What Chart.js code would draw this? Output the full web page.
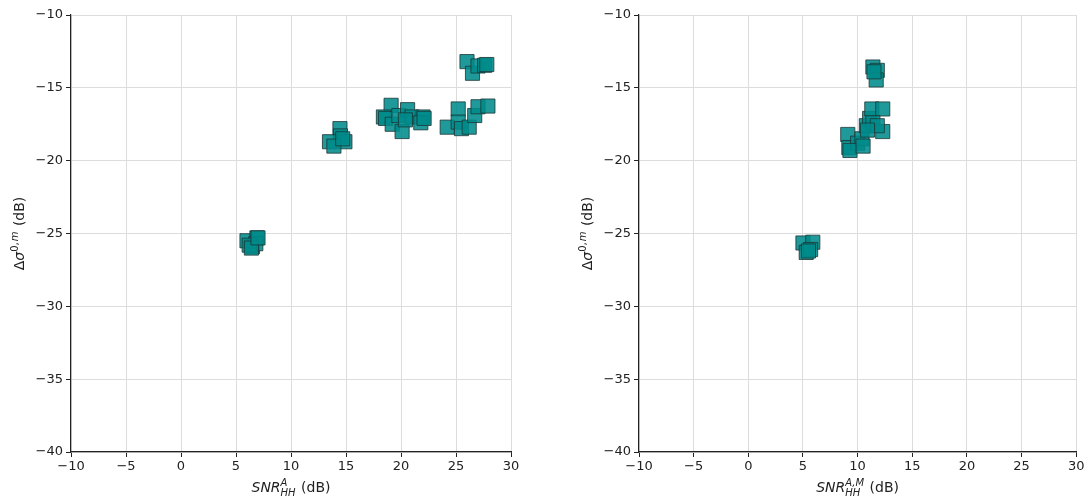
<!DOCTYPE html>
<html>
<head>
<meta charset="utf-8">
<script src="https://cdn.jsdelivr.net/npm/chart.js@4.4.0/dist/chart.umd.min.js"></script>
<style>
  body { margin: 0; background: #fff; }
  .box { position: absolute; top: 0; height: 499px; }
</style>
</head>
<body>
<div class="box" style="left:0;width:530px"><canvas id="chartA"></canvas></div>
<div class="box" style="left:568px;width:519px"><canvas id="chartB"></canvas></div>
<script>
// data (x = SNR dB, y = delta sigma dB)
const snrA = [6.0, 6.9, 6.5, 6.8, 6.2, 6.4, 7.0,
  14.45, 14.5, 13.5, 14.9, 13.9, 14.7,
  19.1, 18.4, 18.6, 19.2, 19.8, 20.6, 20.1, 21.0, 22.0, 21.8, 22.1, 20.4,
  25.2, 24.2, 25.2, 25.5, 26.2, 26.7, 27.0, 27.9,
  26.0, 26.5, 27.0, 27.6, 27.8];
const sigmaA = [-25.5, -25.3, -25.9, -25.7, -25.8, -26.0, -25.3,
  -17.8, -18.3, -18.7, -18.7, -19.0, -18.5,
  -16.2, -17.0, -17.1, -17.5, -16.9, -16.5, -18.0, -17.0, -17.0, -17.4, -17.1, -17.2,
  -16.45, -17.7, -17.35, -17.8, -17.7, -16.9, -16.3, -16.25,
  -13.2, -14.0, -13.5, -13.45, -13.4];

const snrAM = [5.0, 5.9, 5.3, 5.7, 5.5,
  11.4, 11.8, 11.7, 11.5,
  9.1, 9.2, 10.0, 10.4, 10.8, 11.1, 11.3, 12.3, 11.4, 12.3, 11.8, 10.9, 9.3, 10.5];
const sigmaAM = [-25.65, -25.6, -26.3, -26.1, -26.2,
  -13.57, -13.8, -14.46, -13.9,
  -18.2, -19.1, -18.8, -18.5, -17.6, -17.1, -16.45, -16.45, -17.4, -18.0, -17.6, -17.9, -19.3, -19.0];

const xTicks = [-10, -5, 0, 5, 10, 15, 20, 25, 30];
const yTicks = [-40, -35, -30, -25, -20, -15, -10];

const FONT = 'DejaVu Sans';
const INK = '#222';

function pts(xs, ys) {
  return xs.map((x, i) => ({ x: x, y: ys[i] }));
}

function minus(v) {
  return String(v).replace('-', '\u2212');
}

// draws a label made of pieces: {t, it, pos}
function drawPieces(ctx, pieces, cx, cy, rotate) {
  const big = 14, small = 10;
  let total = 0;
  const laid = [];
  let i = 0;
  while (i < pieces.length) {
    const p = pieces[i];
    if (p.pos === 'sup' && pieces[i + 1] && pieces[i + 1].pos === 'sub') {
      ctx.font = (p.it ? 'italic ' : '') + small + 'px ' + FONT;
      const w1 = ctx.measureText(p.t).width;
      const q = pieces[i + 1];
      ctx.font = (q.it ? 'italic ' : '') + small + 'px ' + FONT;
      const w2 = ctx.measureText(q.t).width;
      laid.push({ p: p, x: total });
      laid.push({ p: q, x: total });
      total += Math.max(w1, w2) + 1;
      i += 2;
      continue;
    }
    const size = p.pos ? small : big;
    ctx.font = (p.it ? 'italic ' : '') + size + 'px ' + FONT;
    laid.push({ p: p, x: total });
    total += ctx.measureText(p.t).width + (p.pos ? 1 : 0);
    i++;
  }
  ctx.save();
  ctx.translate(cx, cy);
  if (rotate) ctx.rotate(-Math.PI / 2);
  ctx.fillStyle = INK;
  ctx.textBaseline = 'alphabetic';
  ctx.textAlign = 'left';
  laid.forEach(l => {
    const p = l.p;
    const size = p.pos ? small : big;
    ctx.font = (p.it ? 'italic ' : '') + size + 'px ' + FONT;
    let dy = 5;
    if (p.pos === 'sup') dy = -1;
    if (p.pos === 'sub') dy = 9;
    ctx.fillText(p.t, l.x - total / 2, dy);
  });
  ctx.restore();
}

const yTitle = [
  { t: '\u0394' }, { t: '\u03c3', it: true },
  { t: '0,', pos: 'sup' }, { t: 'm', it: true, pos: 'sup' },
  { t: ' (dB)' }
];

function titlePlugin(xPieces) {
  return {
    id: 'axisTitles',
    afterDraw(chart) {
      const a = chart.chartArea;
      const ctx = chart.ctx;
      drawPieces(ctx, xPieces, (a.left + a.right) / 2, 487, false);
      drawPieces(ctx, yTitle, 19, (a.top + a.bottom) / 2, true);
    }
  };
}

function makeChart(id, data, rightPad, xPieces) {
  const ctx = document.getElementById(id).getContext('2d');
  return new Chart(ctx, {
    type: 'scatter',
    data: {
      datasets: [{
        data: data,
        pointStyle: 'rect',
        pointRadius: 10,
        pointHoverRadius: 10,
        backgroundColor: 'rgba(0, 139, 139, 0.88)',
        borderColor: '#1c3535',
        borderWidth: 0.8
      }]
    },
    options: {
      responsive: true,
      maintainAspectRatio: false,
      animation: false,
      events: [],
      layout: { padding: { top: 15, right: rightPad, left: 0, bottom: 0 } },
      plugins: { legend: { display: false }, tooltip: { enabled: false } },
      scales: {
        x: {
          type: 'linear',
          min: -10, max: 30,
          afterBuildTicks: s => { s.ticks = xTicks.map(v => ({ value: v })); },
          afterFit: s => { s.height = 47; },
          border: { display: true, color: INK, width: 1.2 },
          grid: { color: '#dcdcdc', lineWidth: 1, tickColor: INK, tickLength: 5 },
          ticks: { color: INK, font: { family: FONT, size: 13 }, padding: 2, maxRotation: 0, callback: v => minus(v) }
        },
        y: {
          type: 'linear',
          min: -40, max: -10,
          afterBuildTicks: s => { s.ticks = yTicks.map(v => ({ value: v })); },
          afterFit: s => { s.width = 71; },
          border: { display: true, color: INK, width: 1.2 },
          grid: { color: '#dcdcdc', lineWidth: 1, tickColor: INK, tickLength: 5 },
          ticks: { color: INK, font: { family: FONT, size: 13 }, padding: 3, callback: v => minus(v) }
        }
      }
    },
    plugins: [titlePlugin(xPieces)]
  });
}

makeChart('chartA', pts(snrA, sigmaA), 19, [
  { t: 'SNR', it: true }, { t: 'A', it: true, pos: 'sup' }, { t: 'HH', it: true, pos: 'sub' }, { t: ' (dB)' }
]);
makeChart('chartB', pts(snrAM, sigmaAM), 8, [
  { t: 'SNR', it: true }, { t: 'A,M', it: true, pos: 'sup' }, { t: 'HH', it: true, pos: 'sub' }, { t: ' (dB)' }
]);
</script>
</body>
</html>
